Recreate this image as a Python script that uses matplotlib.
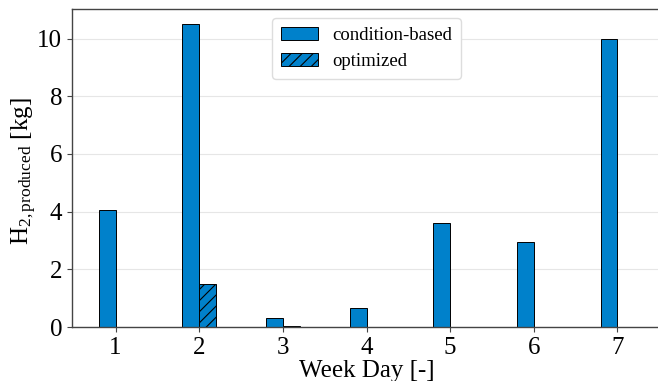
import matplotlib
matplotlib.use("Agg")
import matplotlib.pyplot as plt
import numpy as np

days = [1, 2, 3, 4, 5, 6, 7]
condition_based = [4.05, 10.5, 0.3, 0.65, 3.6, 2.95, 10.0]
optimized = [0.0, 1.5, 0.05, 0.0, 0.0, 0.0, 0.0]

plt.rcParams['font.family'] = ['Liberation Serif', 'DejaVu Serif']
plt.rcParams['mathtext.fontset'] = 'custom'
plt.rcParams['mathtext.rm'] = 'Liberation Serif'
plt.rcParams['mathtext.it'] = 'Liberation Serif:italic'
plt.rcParams['hatch.linewidth'] = 0.8

fig = plt.figure(figsize=(6.58, 3.81), dpi=100)
W, H = 658, 381
ax = fig.add_axes([72 / W, 1 - 327 / H, (661 - 72) / W, (327 - 9) / H])

color = '#0081CB'
x = np.array(days)
ax.bar(x, condition_based, width=-0.2, align='edge', color=color,
       edgecolor='black', linewidth=0.7, label='condition-based')
ax.bar(x, optimized, width=0.2, align='edge', color=color,
       edgecolor='black', linewidth=0.7, hatch='///', label='optimized')

ax.set_ylim(0, 11.025)
ax.set_xlim(0.48, 7.52)
ax.set_xticks(days)
ax.set_yticks([0, 2, 4, 6, 8, 10])
ax.tick_params(axis='both', labelsize=18, color='#444444', length=3.5)
ax.yaxis.grid(True, color='#e6e6e6', linewidth=0.8)
ax.set_axisbelow(True)
for s in ax.spines.values():
    s.set_color('#444444')
    s.set_linewidth(1.0)

ax.set_xlabel('Week Day [-]', fontsize=18, labelpad=1)
ax.set_ylabel(r'H$_{2,\mathrm{produced}}$ [kg]', fontsize=18)
ax.yaxis.set_label_coords(-0.056, 0.49)

leg = ax.legend(loc='upper center', fontsize=13.5, frameon=True, fancybox=True,
                edgecolor='#dddddd', framealpha=1.0, borderpad=0.45,
                handlelength=2.0, handletextpad=0.75, bbox_to_anchor=(0.5, 1.0))

fig.savefig('out.png', dpi=100)
